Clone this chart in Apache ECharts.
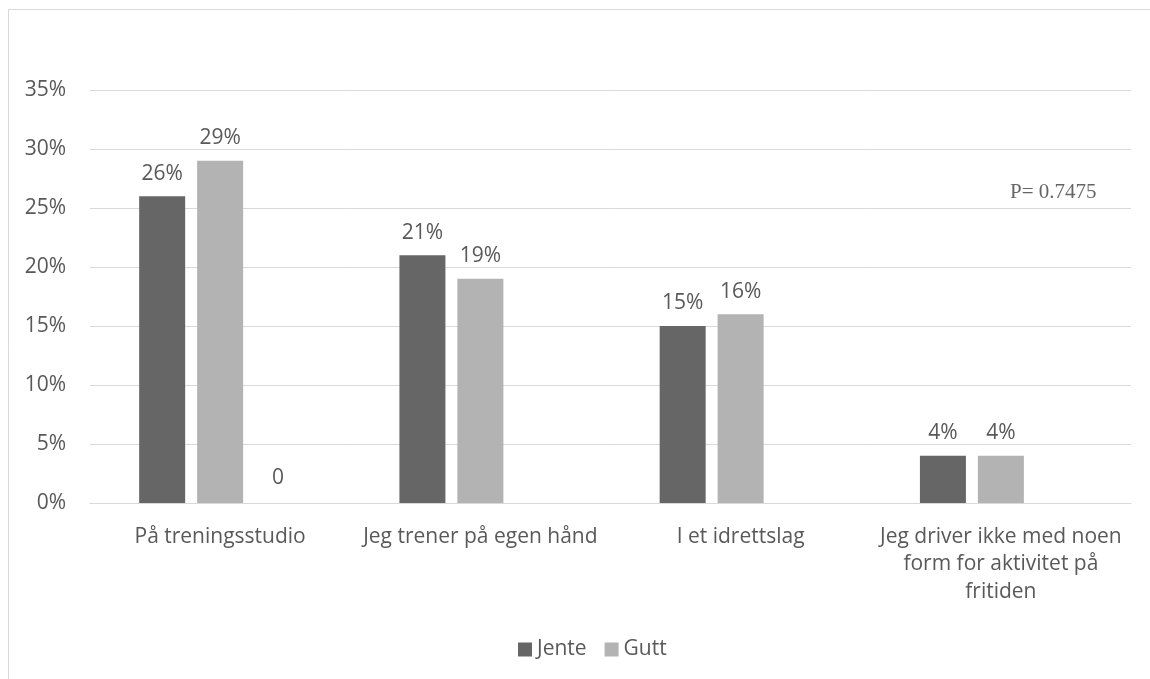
<!DOCTYPE html>
<html>
<head>
<meta charset="utf-8">
<script src="https://cdn.jsdelivr.net/npm/echarts@6/dist/echarts.min.js"></script>
<style>
  html, body { margin: 0; padding: 0; background: #fff; }
  #main { width: 1150px; height: 679px; }
</style>
</head>
<body>
<div id="main"></div>
<script>
const categories = ['På treningsstudio', 'Jeg trener på egen hånd', 'I et idrettslag', 'Jeg driver ikke med noen\nform for aktivitet på\nfritiden'];
const jente = [26, 21, 15, 4];
const gutt = [29, 19, 16, 4];
const ekstra = [0, null, null, null]; // tom tredje serie, bare "0" vises
const pText = 'P= 0.7475';

const chart = echarts.init(document.getElementById('main'));
const txt = '#595959';
const font = '"Open Sans", sans-serif';
const fs = 21;

const barLabel = {
    show: true,
    position: 'top',
    distance: 12,
    color: txt,
    fontSize: fs,
    fontFamily: font,
    formatter: p => p.value + '%'
};

chart.setOption({
    animation: false,
    grid: { left: 90, right: 19, top: 90, bottom: 176 },
    legend: {
        data: ['Jente', 'Gutt'],
        left: 513,
        top: 634,
        itemWidth: 14,
        itemHeight: 14,
        itemGap: 18,
        itemTextGap: 7,
        icon: 'rect',
        textStyle: { color: txt, fontSize: fs, fontFamily: font }
    },
    xAxis: {
        type: 'category',
        data: categories,
        axisLine: { lineStyle: { color: '#d9d9d9' } },
        axisTick: { show: false },
        axisLabel: {
            interval: 0,
            margin: 20,
            color: txt,
            fontSize: fs,
            fontFamily: font,
            lineHeight: 27.5
        }
    },
    yAxis: {
        type: 'value',
        min: 0,
        max: 35,
        interval: 5,
        axisLine: { show: false },
        axisTick: { show: false },
        splitLine: { lineStyle: { color: '#d9d9d9' } },
        axisLabel: {
            margin: 24,
            color: txt,
            fontSize: fs,
            fontFamily: font,
            formatter: '{value}%'
        }
    },
    series: [{
        name: 'Jente',
        type: 'bar',
        data: jente,
        barWidth: 46,
        barGap: '26%',
        itemStyle: { color: '#666666' },
        label: barLabel
    }, {
        name: 'Gutt',
        type: 'bar',
        data: gutt,
        barWidth: 46,
        itemStyle: { color: '#b3b3b3' },
        label: barLabel
    }, {
        name: 'Serie3',
        type: 'bar',
        data: ekstra,
        barWidth: 46,
        itemStyle: { color: '#999999' },
        label: {
            show: true,
            position: 'top',
            distance: 14,
            color: txt,
            fontSize: fs,
            fontFamily: font,
            formatter: '{c}'
        }
    }],
    graphic: [{
        type: 'rect',
        shape: { x: 8.5, y: 9.5, width: 1150, height: 680 },
        style: { fill: 'none', stroke: '#d9d9d9', lineWidth: 1 },
        silent: true
    }, {
        type: 'text',
        left: 1010,
        top: 182,
        style: {
            text: pText,
            fill: '#666666',
            fontSize: 21,
            fontFamily: '"Liberation Serif", serif'
        }
    }]
});
</script>
</body>
</html>
